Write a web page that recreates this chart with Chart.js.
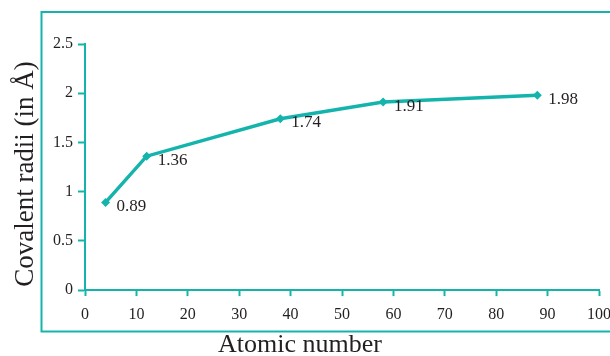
<!DOCTYPE html>
<html>
<head>
<meta charset="utf-8">
<script src="https://cdn.jsdelivr.net/npm/chart.js@4.4.1/dist/chart.umd.min.js"></script>
<style>
  html, body { margin: 0; padding: 0; background: #fff; }
  #wrap { position: relative; width: 610px; height: 356px; }
</style>
</head>
<body>
<div id="wrap"><canvas id="radiiChart" width="610" height="356"></canvas></div>
<script>
// data
const atomicNumbers = [4, 12, 38, 58, 88];
const covalentRadii = [0.89, 1.36, 1.74, 1.91, 1.98];
const xTickLabels = ['0', '10', '20', '30', '40', '50', '60', '70', '80', '90', '100'];
const yTickLabels = ['0', '0.5', '1', '1.5', '2', '2.5'];
const xTitle = 'Atomic number';
const yTitle = 'Covalent radii (in Å)';

const teal = '#14b4ac';
const ink = '#231f20';
const serif = '"Liberation Serif", "DejaVu Serif", serif';

// frame, value labels and axis titles
const decorations = {
  id: 'decorations',
  beforeDraw(chart) {
    const ctx = chart.ctx;
    ctx.save();
    ctx.strokeStyle = teal;
    ctx.lineWidth = 2;
    ctx.strokeRect(41.5, 12, 620, 319.5);
    ctx.restore();
  },
  afterDatasetsDraw(chart) {
    const ctx = chart.ctx;
    const meta = chart.getDatasetMeta(0);
    ctx.save();
    ctx.fillStyle = ink;
    ctx.font = '17px ' + serif;
    ctx.textAlign = 'left';
    ctx.textBaseline = 'middle';
    meta.data.forEach((pt, i) => {
      ctx.fillText(covalentRadii[i].toFixed(2), pt.x + 11, pt.y + 4);
    });
    ctx.restore();
  },
  afterDraw(chart) {
    const ctx = chart.ctx;
    ctx.save();
    ctx.fillStyle = ink;
    ctx.font = '26px ' + serif;
    ctx.textAlign = 'center';
    ctx.textBaseline = 'alphabetic';
    ctx.fillText(xTitle, 300, 352);
    ctx.translate(33, 174);
    ctx.rotate(-Math.PI / 2);
    ctx.font = '27px ' + serif;
    ctx.fillText(yTitle, 0, 0);
    ctx.restore();
  }
};

const ctx = document.getElementById('radiiChart');
new Chart(ctx, {
  type: 'line',
  data: {
    datasets: [{
      label: 'Covalent radii',
      data: atomicNumbers.map((x, i) => ({ x: x, y: covalentRadii[i] })),
      borderColor: teal,
      backgroundColor: teal,
      borderWidth: 3.5,
      pointStyle: 'rectRot',
      pointRadius: 4.5,
      pointBorderWidth: 0,
      pointBackgroundColor: teal,
      tension: 0,
      fill: false
    }]
  },
  options: {
    responsive: false,
    animation: false,
    devicePixelRatio: 1,
    layout: { padding: { top: 44, right: 11, left: 0, bottom: 0 } },
    plugins: {
      legend: { display: false },
      tooltip: { enabled: false }
    },
    scales: {
      x: {
        type: 'linear',
        min: 0,
        max: 100,
        ticks: {
          stepSize: 10,
          color: ink,
          font: { family: serif, size: 16 },
          padding: 9,
          maxRotation: 0,
          callback: (v, i) => xTickLabels[i]
        },
        grid: { drawOnChartArea: false, tickLength: 6, tickColor: teal, tickWidth: 2 },
        border: { color: teal, width: 2 },
        afterFit(scale) {
          scale.height = 66;
          scale.paddingLeft = 0;
          scale.paddingRight = 0;
        }
      },
      y: {
        min: 0,
        max: 2.5,
        ticks: {
          stepSize: 0.5,
          color: ink,
          font: { family: serif, size: 16 },
          padding: 5,
          callback: (v, i) => yTickLabels[i]
        },
        grid: { drawOnChartArea: false, tickLength: 7, tickColor: teal, tickWidth: 2 },
        border: { color: teal, width: 2 },
        afterFit(scale) {
          scale.width = 85;
          scale.paddingTop = 0;
          scale.paddingBottom = 0;
        }
      }
    }
  },
  plugins: [decorations]
});
</script>
</body>
</html>
